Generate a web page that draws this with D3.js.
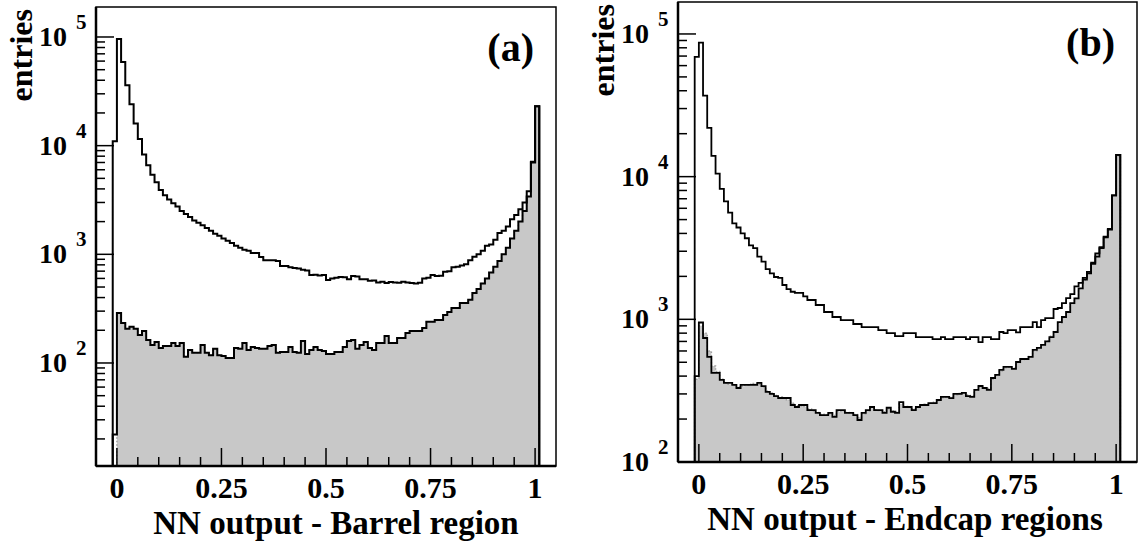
<!DOCTYPE html>
<html>
<head>
<meta charset="utf-8">
<script src="https://cdn.jsdelivr.net/npm/d3@7"></script>
<style>
  body { margin: 0; background: #fff; }
  svg text { font-family: "Liberation Serif", "Times New Roman", serif; font-weight: bold; fill: #000; }
</style>
</head>
<body>
<svg id="svg" width="1140" height="546"></svg>
<script>
// histogram bins: low edge -0.01, width 0.01, 102 bins (-0.01 .. 1.01)
var binLow = -0.01,
  binWidth = 0.01;

// (a) barrel region
var barrelAll = [11000, 96000, 59000, 36000, 24000, 16000, 11500, 8300, 6600, 5400,
  4600, 3900, 3500, 3200, 2950, 2750, 2500, 2350, 2200, 2050,
  1950, 1850, 1750, 1650, 1550, 1480, 1400, 1330, 1270, 1200,
  1150, 1100, 1080, 1030, 1030, 945, 880, 880, 880, 870,
  780, 780, 760, 750, 740, 720, 710, 645, 650, 640,
  645, 580, 600, 610, 620, 615, 590, 630, 625, 590,
  590, 570, 575, 550, 560, 545, 555, 550, 548, 560,
  550, 545, 540, 548, 600, 610, 645, 630, 635, 690,
  700, 760, 770, 790, 810, 880, 950, 1000, 1080, 1200,
  1230, 1360, 1570, 1650, 1800, 2100, 2300, 2600, 3000, 3800,
  7100, 23000];
var barrelSel = [22, 288, 233, 206, 215, 206, 181, 197, 163, 146,
  156, 137, 143, 143, 153, 143, 153, 114, 132, 124,
  124, 146, 124, 118, 135, 118, 116, 111, 111, 137,
  135, 153, 132, 140, 137, 135, 135, 143, 146, 124,
  126, 126, 140, 126, 124, 159, 121, 132, 140, 132,
  129, 121, 121, 126, 126, 140, 159, 163, 135, 146,
  156, 137, 132, 153, 153, 177, 153, 153, 170, 170,
  189, 197, 197, 197, 210, 239, 239, 249, 249, 277,
  295, 321, 321, 357, 357, 381, 440, 480, 540, 600,
  680, 770, 870, 1000, 1150, 1400, 1650, 2000, 2500, 3400,
  7000, 23000];
var barrelMC = [0, 288, 233, 206, 215, 206, 181, 197, 163, 146,
  156, 137, 143, 143, 153, 143, 153, 114, 132, 124,
  124, 146, 124, 118, 135, 118, 116, 111, 111, 137,
  135, 153, 132, 140, 137, 135, 135, 143, 146, 124,
  126, 126, 140, 126, 124, 159, 121, 132, 140, 132,
  129, 121, 121, 126, 126, 140, 159, 163, 135, 146,
  156, 137, 132, 153, 153, 177, 153, 153, 170, 170,
  189, 197, 197, 197, 210, 239, 239, 249, 249, 277,
  295, 321, 321, 357, 357, 381, 440, 480, 540, 600,
  680, 770, 870, 1000, 1150, 1400, 1650, 2000, 2500, 3400,
  7000, 23000];

// (b) endcap regions
var endcapAll = [69000, 87000, 37000, 22000, 14000, 10500, 8200, 6700, 5600, 4700,
  4400, 4000, 3700, 3300, 3160, 2750, 2540, 2250, 2100, 1980,
  1950, 1740, 1630, 1560, 1530, 1530, 1450, 1366, 1366, 1260,
  1260, 1125, 1125, 1038, 1038, 988, 988, 988, 927, 927,
  883, 883, 883, 883, 841, 841, 801, 801, 763, 763,
  801, 801, 801, 751, 751, 751, 751, 727, 727, 751,
  727, 727, 751, 751, 751, 727, 751, 751, 693, 751,
  751, 727, 727, 815, 801, 841, 841, 810, 883, 883,
  883, 957, 883, 988, 1021, 1021, 1181, 1200, 1300, 1409,
  1500, 1700, 1800, 1950, 2150, 2450, 2750, 3200, 3800, 4300,
  7400, 14200];
var endcapSel = [400, 950, 740, 545, 421, 421, 376, 358, 358, 347,
  330, 347, 347, 347, 347, 358, 340, 310, 300, 290,
  281, 281, 281, 251, 243, 251, 251, 231, 231, 221,
  213, 213, 221, 207, 231, 231, 221, 221, 213, 197,
  221, 231, 243, 231, 231, 221, 240, 225, 221, 263,
  243, 243, 231, 243, 251, 251, 259, 259, 272, 286,
  286, 280, 300, 300, 305, 290, 286, 320, 341, 330,
  320, 388, 408, 442, 464, 464, 450, 502, 527, 527,
  545, 610, 630, 661, 700, 751, 815, 957, 1038, 1125,
  1300, 1400, 1650, 1900, 2100, 2500, 2900, 3150, 3750, 4250,
  7400, 14200];
var endcapMC = [380, 900, 800, 600, 470, 430, 380, 360, 350, 345,
  335, 340, 345, 350, 355, 350, 335, 315, 305, 292,
  285, 280, 272, 258, 248, 248, 245, 235, 228, 222,
  216, 214, 218, 212, 226, 228, 222, 220, 215, 205,
  218, 228, 238, 232, 230, 225, 236, 228, 226, 255,
  245, 242, 236, 244, 250, 254, 258, 262, 270, 282,
  285, 284, 296, 302, 304, 295, 292, 318, 336, 332,
  328, 380, 405, 435, 458, 462, 458, 498, 522, 530,
  548, 600, 628, 660, 705, 760, 820, 940, 1030, 1120,
  1290, 1400, 1640, 1880, 2100, 2480, 2880, 3150, 3750, 4250,
  7350, 14000];

var xTicks = [0, 0.25, 0.5, 0.75, 1],
  xTickLabels = ["0", "0.25", "0.5", "0.75", "1"],
  yDecades = [2, 3, 4, 5];

var svg = d3.select("#svg");

function drawPanel(p) {
  var x = d3.scaleLinear().domain([-0.05, 1.05]).range([p.left, p.right]),
    y = d3.scaleLog().domain(p.yDomain).range([p.bottom, p.top]),
    ymin = p.yDomain[0],
    g = svg.append("g");

  function steps(vals) {
    var pts = [[binLow, ymin]];
    vals.forEach(function (v, i) {
      pts.push([binLow + i * binWidth, Math.max(v, ymin)]);
    });
    var end = binLow + vals.length * binWidth;
    pts.push([end, Math.max(vals[vals.length - 1], ymin)]);
    pts.push([end, ymin]);
    return pts;
  }
  var line = d3.line()
    .curve(d3.curveStepAfter)
    .x(function (d) { return x(d[0]); })
    .y(function (d) { return y(d[1]); });
  var area = d3.area()
    .curve(d3.curveStepAfter)
    .x(function (d) { return x(d[0]); })
    .y0(p.bottom)
    .y1(function (d) { return y(d[1]); });

  // grey filled histogram
  g.append("path").attr("d", area(steps(p.fill))).attr("fill", "#c8c8c8");
  g.append("path")
    .attr("d", line(steps(p.fill)))
    .attr("fill", "none")
    .attr("stroke", "#a0a0a0")
    .attr("stroke-width", 1.5)
    .attr("stroke-dasharray", "1.5,2");
  // black outlines
  [p.upper, p.lower].forEach(function (vals) {
    g.append("path")
      .attr("d", line(steps(vals)))
      .attr("fill", "none")
      .attr("stroke", "#000")
      .attr("stroke-width", p.lw);
  });

  // frame
  g.append("rect")
    .attr("x", p.left).attr("y", p.top)
    .attr("width", p.right - p.left).attr("height", p.bottom - p.top)
    .attr("fill", "none").attr("stroke", "#000").attr("stroke-width", 1.5);
  g.append("line")
    .attr("x1", p.left).attr("x2", p.left).attr("y1", p.top).attr("y2", p.bottom)
    .attr("stroke", "#000").attr("stroke-width", 2.5);
  g.append("line")
    .attr("x1", p.left).attr("x2", p.right).attr("y1", p.bottom).attr("y2", p.bottom)
    .attr("stroke", "#000").attr("stroke-width", 2.5);

  // y ticks (log)
  var ymax = p.yDomain[1];
  for (var d = 1; d <= 5; d++) {
    for (var m = 1; m <= 9; m++) {
      var v = m * Math.pow(10, d);
      if (v < ymin * 0.999 || v > ymax) continue;
      g.append("line")
        .attr("x1", p.left).attr("x2", p.left + (m == 1 ? 18 : 9))
        .attr("y1", y(v)).attr("y2", y(v))
        .attr("stroke", "#000").attr("stroke-width", 1.5);
    }
  }
  yDecades.forEach(function (e) {
    var ty = y(Math.pow(10, e));
    g.append("text")
      .attr("x", p.left - 29).attr("y", ty + 9)
      .attr("text-anchor", "end")
      .style("font-size", "28px")
      .text("10");
    g.append("text")
      .attr("x", p.left - 20).attr("y", ty - 8)
      .style("font-size", "21px")
      .text(e);
  });

  // x ticks
  d3.range(0, 21).forEach(function (i) {
    var t = i * 0.05, major = i % 5 == 0;
    g.append("line")
      .attr("x1", x(t)).attr("x2", x(t))
      .attr("y1", p.bottom).attr("y2", p.bottom - (major ? 18 : 9))
      .attr("stroke", "#000").attr("stroke-width", 1.5);
  });
  xTicks.forEach(function (t, i) {
    g.append("text")
      .attr("x", x(t)).attr("y", p.bottom + 32)
      .attr("text-anchor", "middle")
      .style("font-size", "30px")
      .text(xTickLabels[i]);
  });

  // titles
  g.append("text")
    .attr("x", p.titleX).attr("y", p.bottom + 68)
    .attr("text-anchor", "middle")
    .style("font-size", "33px")
    .text(p.title);
  g.append("text")
    .attr("transform", "translate(" + (p.left - 64) + "," + (p.top + 2) + ") rotate(-90)")
    .attr("text-anchor", "end")
    .style("font-size", "32px")
    .text("entries");
  g.append("text")
    .attr("x", p.right - 22).attr("y", p.top + 54)
    .attr("text-anchor", "end")
    .style("font-size", "40px")
    .text(p.tag);
}

drawPanel({
  left: 96, right: 556, top: 7, bottom: 466,
  yDomain: [11.27, 188800],
  upper: barrelAll, lower: barrelSel, fill: barrelMC,
  lw: 2,
  title: "NN output - Barrel region", titleX: 336,
  tag: "(a)"
});
drawPanel({
  left: 678, right: 1137, top: 2, bottom: 462,
  yDomain: [100, 167500],
  upper: endcapAll, lower: endcapSel, fill: endcapMC,
  lw: 1.8,
  title: "NN output - Endcap regions", titleX: 905,
  tag: "(b)"
});
</script>
</body>
</html>
